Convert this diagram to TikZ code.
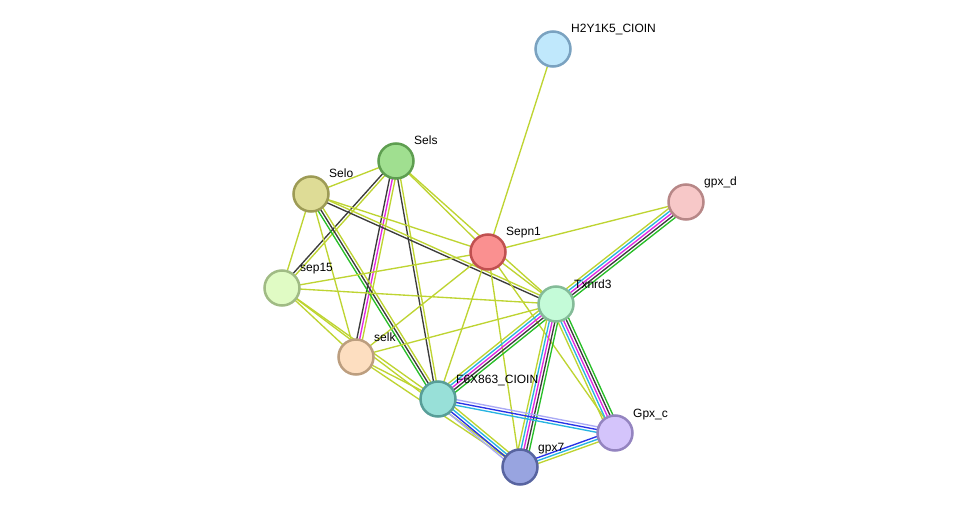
\documentclass[tikz,border=0pt]{standalone}
\usepackage{fontspec}
\setmainfont{Liberation Sans}
\usetikzlibrary{calc,backgrounds}

% link colours
\definecolor{yg}{RGB}{190,212,50}
\definecolor{dk}{RGB}{60,60,60}
\definecolor{mg}{RGB}{225,40,225}
\definecolor{cy}{RGB}{40,180,225}
\definecolor{gr}{RGB}{40,190,40}
\definecolor{bl}{RGB}{40,50,230}
\definecolor{lv}{RGB}{170,170,245}
% protein colours (fill / border)
\definecolor{h2y}{RGB}{192,232,252}  \definecolor{h2ybd}{RGB}{122,162,192}
\definecolor{sels}{RGB}{160,223,144} \definecolor{selsbd}{RGB}{94,158,80}
\definecolor{selo}{RGB}{222,220,150} \definecolor{selobd}{RGB}{157,155,85}
\definecolor{gpxd}{RGB}{247,200,200} \definecolor{gpxdbd}{RGB}{183,135,135}
\definecolor{sepn}{RGB}{250,144,144} \definecolor{sepnbd}{RGB}{192,80,80}
\definecolor{sep}{RGB}{224,251,196}  \definecolor{sepbd}{RGB}{160,187,132}
\definecolor{txn}{RGB}{196,251,216}  \definecolor{txnbd}{RGB}{132,187,152}
\definecolor{selk}{RGB}{253,222,192} \definecolor{selkbd}{RGB}{188,158,127}
\definecolor{f6x}{RGB}{152,224,216}  \definecolor{f6xbd}{RGB}{88,158,152}
\definecolor{gpxc}{RGB}{212,196,251} \definecolor{gpxcbd}{RGB}{148,132,192}
\definecolor{gpxs}{RGB}{152,164,224} \definecolor{gpxsbd}{RGB}{88,100,160}

\begin{document}
\begin{tikzpicture}[x=1pt,y=-1pt]
  \tikzstyle{prot}=[circle,minimum size=35pt,inner sep=0pt,line width=2.5pt]
  \tikzstyle{lbl}=[anchor=base west,inner sep=0pt,xshift=18pt,yshift=16pt,font=\fontsize{12}{14}\selectfont]
  \tikzstyle{lnk}=[line width=1.35pt]
  \useasboundingbox (0,0) rectangle (975,513);

  % proteins
  \foreach \n/\x/\y/\t in {h2y/553/49/H2Y1K5\_CIOIN,sels/396/161/Sels,selo/311/194/Selo,
      gpxd/686/202/gpx\_d,sepn/488/252/Sepn1,sep/282/288/sep15,txn/556/304/Txnrd3,
      selk/356/357/selk,f6x/438/399/F6X863\_CIOIN,gpxc/615/433/Gpx\_c,gpxs/520/467/gpx7} {
    \node[prot,fill=\n,draw=\n bd] (\n) at (\x,\y) {};
    \node[lbl] (\n-t) at (\n) {\t};
  }

  % links, one line per evidence channel
  \begin{scope}[on background layer]
  \foreach \a/\b/\k/\cl in {h2y/sepn/1/{yg},sels/selo/1/{yg},sels/sep/2/{dk,yg},
      sels/selk/3/{dk,mg,yg},sels/f6x/2/{dk,yg},sels/sepn/1/{yg},sels/txn/1/{yg},
      selo/sepn/1/{yg},selo/txn/2/{dk,yg},selo/sep/1/{yg},selo/selk/1/{yg},
      selo/f6x/3/{gr,dk,yg},sep/sepn/1/{yg},sep/txn/1/{yg},sep/selk/1/{yg},
      sep/f6x/1/{yg},sep/gpxs/1/{yg},selk/sepn/1/{yg},selk/txn/1/{yg},
      selk/f6x/1/{yg},selk/gpxs/1/{yg},sepn/txn/1/{yg},sepn/gpxd/1/{yg},
      sepn/f6x/1/{yg},sepn/gpxs/1/{yg},sepn/gpxc/1/{yg},
      txn/gpxd/5/{gr,dk,mg,cy,yg},f6x/txn/5/{gr,dk,mg,cy,yg},
      gpxs/txn/5/{gr,dk,mg,cy,yg},gpxc/txn/5/{gr,dk,mg,cy,yg},
      f6x/gpxc/3/{cy,bl,lv},f6x/gpxs/4/{lv,bl,cy,yg},gpxs/gpxc/3/{yg,cy,bl}} {
    \foreach \c [count=\i] in \cl {
      \pgfmathsetmacro\off{(\i-(\k+1)/2)*2.8}
      \draw[lnk,\c] ($(\a)!\off pt!90:(\b)$) -- ($(\b)!\off pt!-90:(\a)$);
    }
  }
  \end{scope}
\end{tikzpicture}
\end{document}
